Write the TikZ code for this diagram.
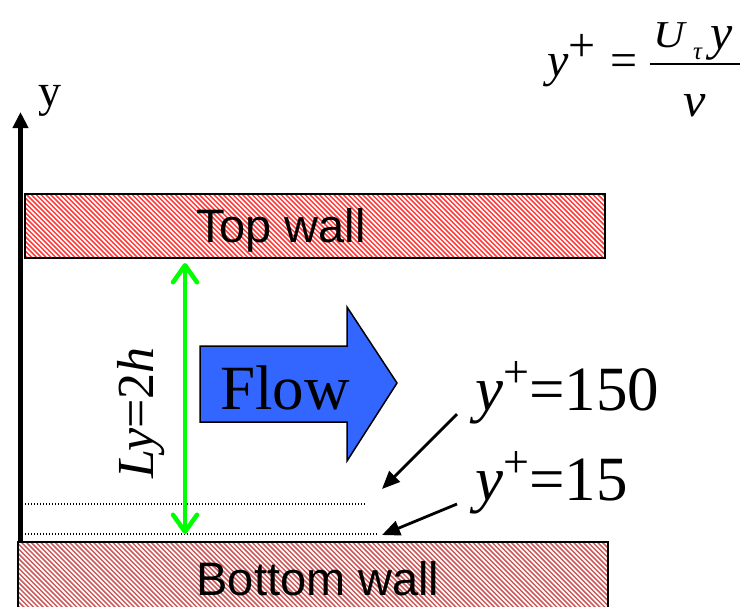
\documentclass[tikz,border=0pt]{standalone}
\usepackage{fontspec}
\setmainfont{Liberation Serif}
\newfontfamily\arialf{Liberation Sans}
\usetikzlibrary{arrows.meta}
\definecolor{flowblue}{RGB}{51,102,255}
\definecolor{hatchA}{RGB}{255,60,60}
\definecolor{hatchB}{RGB}{205,90,90}
\definecolor{lygreen}{RGB}{0,255,0}
\begin{document}
\begin{tikzpicture}[x=1pt,y=-1pt,
  wallbox/.style={draw=black,line width=2pt},
  walltext/.style={font=\arialf\fontsize{47}{50}\selectfont,anchor=base,inner sep=0pt},
  serif/.style={inner sep=0pt,anchor=base west},
  ptr/.style={-{Triangle[length=18pt,width=15pt]},line width=2.8pt},
  dotline/.style={line width=1.3pt,dash pattern=on 1.3pt off 1.7pt},
  hatchline/.style={line width=1.5pt}
]
\useasboundingbox (0,0) rectangle (743,606);
% top wall
\begin{scope}
\clip (25,194) rectangle (605,258);
\foreach \i in {-70,-65.2,...,610} {\draw[hatchline,hatchA] (\i,194) -- ++(64,64);}
\end{scope}
\draw[wallbox] (25,194) rectangle (605,258);
\node[walltext] (topwall) at (281,242) {Top wall};
% bottom wall
\begin{scope}
\clip (18,542) rectangle (608,625);
\foreach \i in {-70,-65.2,...,610} {\draw[hatchline,hatchB] (\i,542) -- ++(84,84);}
\end{scope}
\draw[wallbox] (18,542) rectangle (608,625);
\node[walltext] (botwall) at (318,595) {Bottom wall};
% y axis
\coordinate (ybase) at (20.5,542);
\coordinate (ytip) at (20.5,112);
\draw[line width=4.5pt,-{Triangle[length=16pt,width=15pt]}] (ybase) -- (ytip);
\node[serif,font=\fontsize{46}{48}\selectfont] (ylab) at (38,106) {y};
% dotted lines
\coordinate (d1a) at (25,504); \coordinate (d1b) at (365,504);
\coordinate (d2a) at (25,534); \coordinate (d2b) at (377,534);
\draw[dotline] (d1a) -- (d1b);
\draw[dotline] (d2a) -- (d2b);
% green dimension
\coordinate (ltop) at (185,263);
\coordinate (lbot) at (185,534);
\draw[lygreen,line width=4.5pt,{Straight Barb[length=17pt,width=24pt,round]}-{Straight Barb[length=17pt,width=24pt,round]}] (ltop) -- (lbot);
\node[rotate=90,anchor=base,inner sep=0pt,font=\fontsize{52}{54}\selectfont] (lylab) at (153,413) {\textit{Ly}=2\textit{h}};
% flow arrow
\draw[fill=flowblue,line width=1.5pt,line join=miter] (200,346) -- (347,346) -- (347,307) -- (397,383) -- (347,461) -- (347,422) -- (200,422) -- cycle;
\node[anchor=base,inner sep=0pt,font=\fontsize{63}{65}\selectfont] (flowlab) at (285,409) {Flow};
% y+ labels
\node[serif,font=\fontsize{63}{65}\selectfont] (l150) at (475,410) {\textit{y}\raisebox{23pt}{\fontsize{46}{46}\selectfont +}=150};
\node[serif,font=\fontsize{63}{65}\selectfont] (l15) at (475,500) {\textit{y}\raisebox{23pt}{\fontsize{46}{46}\selectfont +}=15};
\coordinate (p1s) at (457,414); \coordinate (p1e) at (382,489);
\coordinate (p2s) at (457,504); \coordinate (p2e) at (382,535);
\draw[ptr] (p1s) -- (p1e);
\draw[ptr] (p2s) -- (p2e);
% formula
\node[serif,font=\fontsize{48}{50}\selectfont] (fleft) at (547,76) {\textit{y}\raisebox{15pt}{+}\hspace{15pt}=};
\coordinate (fbl) at (650,64); \coordinate (fbr) at (740,64);
\draw[line width=1.8pt] (fbl) -- (fbr);
\node[serif,xscale=1.15,font=\fontsize{38}{40}\selectfont\itshape] (fU) at (653,47) {U};
\node[serif,font=\fontsize{25}{27}\selectfont\itshape] (ftau) at (693,59) {τ};
\node[serif,font=\fontsize{50}{52}\selectfont\itshape] (fy) at (710,49) {y};
\node[serif,xscale=1.05,font=\fontsize{48}{50}\selectfont\itshape] (fnu) at (683,116) {ν};
\end{tikzpicture}
\end{document}
